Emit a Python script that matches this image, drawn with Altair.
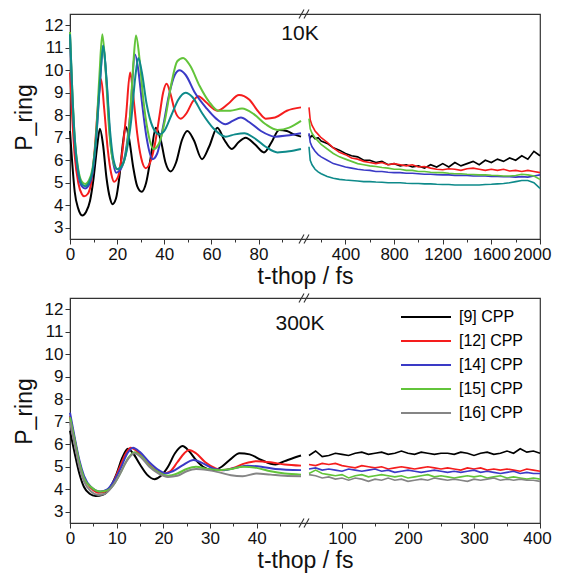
import altair as alt
import pandas as pd

SERIES = ["[9] CPP", "[12] CPP", "[14] CPP", "[15] CPP", "[16] CPP"]
TOP_COLORS = ["#000000", "#f51d1d", "#3a3ac6", "#62c43a", "#0e8a8a"]
BOT_COLORS = ["#000000", "#f51d1d", "#3a3ac6", "#62c43a", "#858585"]

# ---------------- 10 K, 0-98 fs ----------------
top9_t = [0, 1, 2, 3.5, 5.2, 6.8, 8.5, 10, 11.5, 12.7, 14, 15.5, 17, 18, 19.5, 21, 22.5, 23.6, 25, 26.8, 28.5, 30.4, 32.3, 34.2, 36.4, 38.5, 40.5, 42.7, 45, 47.5, 49.8, 52.5, 56, 59, 62.5, 65.5, 68.6, 71.5, 74.5, 78.5, 82.3, 85.5, 88.7, 92, 95, 98]
top9_v = [7.3, 5.8, 4.6, 3.85, 3.55, 3.7, 4.2, 5.2, 6.6, 7.4, 6.7, 5.2, 4.3, 4.05, 4.3, 5.3, 6.8, 7.5, 7.0, 5.7, 4.85, 4.6, 5.0, 6.1, 7.45, 6.9, 5.9, 5.5, 5.9, 6.9, 7.3, 6.9, 6.05, 6.6, 7.45, 6.9, 6.5, 6.8, 7.0, 6.7, 6.35, 6.8, 7.35, 7.3, 7.15, 7.05]
top12_t = [0, 1, 2, 3.5, 5, 6, 7.5, 9, 10.5, 12, 13.2, 14.5, 16, 17.5, 18.7, 20.5, 22, 23.8, 25.5, 27, 28.5, 30.2, 32.1, 34, 36, 38, 39.5, 41, 42.5, 44.5, 47, 49.5, 52, 54.5, 57.5, 62.5, 67, 71.7, 76, 80, 83, 87, 92, 98]
top12_v = [9.9, 7.8, 6.2, 5.0, 4.5, 4.4, 4.5, 5.0, 6.5, 8.6, 9.6, 8.3, 6.5, 5.4, 5.05, 5.3, 6.2, 8.0, 9.9, 8.7, 7.2, 6.1, 5.65, 5.9, 6.7, 8.0, 9.0, 9.4, 9.0, 8.2, 7.85, 8.1, 8.6, 8.85, 8.6, 8.2, 8.5, 8.9, 8.7, 8.15, 7.85, 7.9, 8.2, 8.35]
top14_t = [0, 1, 2, 3.5, 5, 6.4, 8, 9.5, 11, 12.7, 14.1, 15.5, 17, 18.5, 19.6, 21.5, 23.5, 25.5, 27.6, 29, 30.5, 32.5, 35, 37, 39.5, 42, 44.5, 46.5, 49, 53, 58, 62, 66, 69, 72.5, 76, 81, 87, 92, 98]
top14_v = [11.5, 8.8, 6.8, 5.4, 4.85, 4.75, 4.9, 5.4, 6.8, 9.4, 11.1, 9.5, 7.0, 5.8, 5.45, 5.6, 6.3, 8.0, 10.7, 10.0, 8.6, 7.0, 6.05, 6.3, 7.5, 8.9, 9.8, 10.0, 9.8, 9.0, 8.3, 7.85, 7.6, 7.75, 7.9, 7.7, 7.3, 7.05, 7.1, 7.2]
top15_t = [0, 1, 2, 3.5, 5, 6.5, 8, 9.5, 11, 12.5, 13.7, 15, 16.5, 18, 20, 22, 24, 25.5, 27, 28, 29.5, 31, 33, 35.5, 38, 40.5, 43, 45.5, 48, 51, 55, 59, 63, 68, 73, 78, 83, 88, 93, 98]
top15_v = [11.7, 9.0, 7.0, 5.6, 5.05, 4.95, 5.1, 5.6, 7.0, 9.8, 11.6, 10.2, 7.5, 6.1, 5.6, 5.75, 6.5, 8.0, 10.5, 11.55, 10.5, 8.8, 7.3, 6.5, 6.8, 7.9, 9.4, 10.4, 10.55, 10.2, 9.3, 8.6, 8.2, 8.2, 8.3, 8.05, 7.6, 7.35, 7.45, 7.75]
top16_t = [0, 1, 2, 3.5, 5, 6.5, 8, 9.5, 11, 12.7, 14.1, 15.5, 17, 18.5, 20.2, 22, 24, 26, 27.7, 29, 30.5, 32.5, 35, 37.8, 40, 43, 46, 49, 52, 56, 61, 66, 70, 74, 78, 83, 88, 93, 98]
top16_v = [11.6, 9.0, 7.0, 5.5, 4.95, 4.85, 5.0, 5.5, 6.9, 9.5, 11.1, 9.6, 7.3, 6.0, 5.6, 5.75, 6.4, 7.8, 9.7, 10.55, 9.9, 8.5, 7.5, 7.15, 7.3, 8.0, 8.7, 9.0, 8.8, 8.1, 7.4, 7.05, 7.15, 7.2, 7.0, 6.6, 6.35, 6.4, 6.5]

# ---------------- 10 K, 100-2000 fs ----------------
top_late_t = [100, 110, 125, 150, 175, 200, 250, 300, 350, 400, 450, 500, 550, 600, 650, 700, 750, 800, 850, 900, 950, 1000, 1050, 1100, 1150, 1200, 1250, 1300, 1350, 1400, 1450, 1500, 1550, 1600, 1650, 1700, 1750, 1800, 1850, 1900, 1950, 2000]
top9_late = [7.15, 7.0, 7.1, 6.95, 7.0, 6.85, 6.75, 6.55, 6.45, 6.3, 6.2, 6.15, 6.0, 6.0, 5.9, 5.95, 5.8, 5.85, 5.75, 5.8, 5.7, 5.75, 5.65, 5.8, 5.7, 5.85, 5.7, 5.9, 5.75, 5.85, 5.95, 5.8, 6.0, 5.9, 6.05, 5.95, 6.1, 6.0, 6.2, 6.05, 6.4, 6.2]
top12_late = [8.35, 7.8, 7.55, 7.3, 7.15, 7.0, 6.8, 6.55, 6.35, 6.25, 6.1, 6.05, 5.95, 5.9, 5.85, 5.9, 5.8, 5.85, 5.8, 5.75, 5.8, 5.7, 5.72, 5.65, 5.6, 5.58, 5.62, 5.6, 5.55, 5.62, 5.65, 5.6, 5.55, 5.6, 5.55, 5.6, 5.52, 5.55, 5.5, 5.55, 5.5, 5.45]
top14_late = [7.2, 6.8, 6.6, 6.4, 6.25, 6.15, 6.0, 5.85, 5.78, 5.7, 5.65, 5.6, 5.57, 5.55, 5.5, 5.5, 5.47, 5.45, 5.45, 5.42, 5.42, 5.4, 5.38, 5.38, 5.36, 5.35, 5.35, 5.33, 5.33, 5.32, 5.3, 5.3, 5.3, 5.28, 5.28, 5.27, 5.27, 5.25, 5.27, 5.25, 5.3, 5.35]
top15_late = [7.85, 7.4, 7.2, 7.0, 6.85, 6.7, 6.5, 6.3, 6.15, 6.05, 5.95, 5.85, 5.8, 5.75, 5.72, 5.68, 5.65, 5.6, 5.6, 5.55, 5.55, 5.5, 5.5, 5.47, 5.45, 5.45, 5.42, 5.4, 5.4, 5.38, 5.37, 5.35, 5.35, 5.33, 5.32, 5.3, 5.3, 5.32, 5.38, 5.35, 5.3, 5.15]
top16_late = [6.6, 6.0, 5.8, 5.6, 5.48, 5.4, 5.28, 5.2, 5.15, 5.12, 5.1, 5.08, 5.05, 5.05, 5.03, 5.02, 5.0, 5.0, 5.0, 4.98, 4.97, 4.97, 4.95, 4.95, 4.93, 4.92, 4.92, 4.9, 4.9, 4.9, 4.9, 4.9, 4.92, 4.93, 4.95, 4.97, 5.0, 5.05, 5.1, 5.1, 5.0, 4.75]

# ---------------- 300 K, 0-49.5 fs ----------------
bot9_t = [0, 1, 2, 3, 4.2, 5.5, 7, 8.5, 10, 11.2, 12.4, 13.5, 15, 16.5, 18.1, 19.5, 21, 22.5, 24.1, 25.5, 27, 28.5, 30.7, 32.5, 34.5, 36.3, 38.5, 41, 44, 46, 48, 49.5]
bot9_v = [6.6, 5.6, 4.7, 4.1, 3.8, 3.7, 3.75, 4.05, 4.7, 5.4, 5.8, 5.6, 5.1, 4.65, 4.45, 4.6, 5.0, 5.6, 5.92, 5.7, 5.3, 5.0, 4.85, 5.0, 5.35, 5.6, 5.55, 5.3, 5.1, 5.25, 5.4, 5.5]
bot12_t = [0, 1, 2, 3, 4.5, 6, 7.5, 9, 10.5, 12, 13, 14.3, 16, 18, 20, 21.5, 23, 24.5, 25.5, 27, 29, 31, 32.5, 35, 37.5, 40, 43, 46, 49.5]
bot12_v = [7.25, 6.2, 5.2, 4.5, 4.05, 3.85, 3.9, 4.2, 4.9, 5.6, 5.85, 5.7, 5.3, 4.9, 4.7, 4.8, 5.2, 5.6, 5.75, 5.6, 5.2, 4.95, 4.85, 4.95, 5.15, 5.25, 5.2, 5.1, 5.05]
bot14_t = [0, 1, 2, 3, 4.5, 6.5, 8, 9.5, 11, 12.3, 13.5, 15, 17, 19, 20.5, 22, 24, 26.5, 28.5, 31, 33, 35.5, 38, 41, 44, 49.5]
bot14_v = [7.4, 6.3, 5.3, 4.6, 4.1, 3.9, 4.0, 4.4, 5.0, 5.6, 5.85, 5.65, 5.2, 4.85, 4.7, 4.8, 5.05, 5.3, 5.15, 4.9, 4.85, 4.95, 5.05, 5.0, 4.9, 4.85]
bot15_t = [0, 1, 2, 3, 4.5, 6.5, 8, 9.5, 11, 12.5, 13.8, 15.3, 17, 19, 21, 23, 25, 27, 29.5, 32, 34.5, 37, 40, 43, 46, 49.5]
bot15_v = [7.2, 6.2, 5.2, 4.5, 4.1, 3.9, 3.95, 4.25, 4.8, 5.4, 5.65, 5.45, 5.05, 4.75, 4.6, 4.7, 4.9, 5.0, 4.9, 4.85, 4.9, 5.0, 4.95, 4.8, 4.7, 4.65]
bot16_t = [0, 1, 2, 3, 4.5, 6, 7.5, 9, 10.5, 12, 13.8, 15.3, 17, 19, 21, 23, 25, 27, 29.5, 32, 34.5, 37, 40, 43, 46, 49.5]
bot16_v = [7.0, 6.0, 5.0, 4.35, 3.9, 3.75, 3.8, 4.1, 4.6, 5.2, 5.6, 5.4, 5.0, 4.7, 4.55, 4.6, 4.8, 4.9, 4.85, 4.75, 4.62, 4.58, 4.7, 4.65, 4.6, 4.58]

# ---------------- 300 K, 50-400 fs ----------------
bot_late_t = [50, 60, 70, 80, 90, 100, 110, 120, 130, 140, 150, 160, 170, 180, 190, 200, 210, 220, 230, 240, 250, 260, 270, 280, 290, 300, 310, 320, 330, 340, 350, 360, 370, 380, 390, 400]
bot9_late = [5.5, 5.7, 5.45, 5.5, 5.6, 5.55, 5.5, 5.6, 5.65, 5.55, 5.6, 5.65, 5.55, 5.6, 5.7, 5.6, 5.55, 5.65, 5.6, 5.55, 5.6, 5.6, 5.55, 5.65, 5.6, 5.5, 5.6, 5.65, 5.55, 5.6, 5.7, 5.6, 5.8, 5.65, 5.7, 5.6]
bot12_late = [5.1, 5.05, 5.15, 5.1, 5.15, 5.05, 5.0, 4.95, 5.05, 5.0, 4.95, 5.0, 4.9, 4.95, 5.0, 4.95, 4.9, 4.95, 5.0, 4.95, 4.9, 4.95, 4.9, 4.85, 4.95, 4.9, 4.95, 4.85, 4.9, 4.85, 4.9, 4.85, 4.8, 4.9, 4.85, 4.8]
bot14_late = [4.9, 4.95, 4.85, 4.9, 4.85, 4.8, 4.9, 4.85, 4.8, 4.85, 4.9, 4.8, 4.85, 4.75, 4.8, 4.85, 4.8, 4.75, 4.8, 4.85, 4.8, 4.75, 4.8, 4.75, 4.8, 4.85, 4.75, 4.8, 4.75, 4.7, 4.75, 4.8, 4.7, 4.75, 4.7, 4.7]
bot15_late = [4.7, 4.85, 4.7, 4.65, 4.6, 4.65, 4.5, 4.6, 4.65, 4.55, 4.6, 4.65, 4.6, 4.55, 4.6, 4.5, 4.55, 4.6, 4.65, 4.55, 4.6, 4.55, 4.5, 4.55, 4.6, 4.55, 4.6, 4.5, 4.55, 4.6, 4.5, 4.55, 4.5, 4.45, 4.5, 4.45]
bot16_late = [4.65, 4.6, 4.5, 4.55, 4.45, 4.5, 4.4, 4.5, 4.45, 4.35, 4.45, 4.4, 4.5, 4.4, 4.45, 4.35, 4.4, 4.45, 4.4, 4.5, 4.45, 4.4, 4.45, 4.4, 4.35, 4.45, 4.4, 4.45, 4.5, 4.4, 4.45, 4.4, 4.45, 4.4, 4.4, 4.35]

TOP_EARLY = [(top9_t, top9_v), (top12_t, top12_v), (top14_t, top14_v), (top15_t, top15_v), (top16_t, top16_v)]
TOP_LATE = [top9_late, top12_late, top14_late, top15_late, top16_late]
BOT_EARLY = [(bot9_t, bot9_v), (bot12_t, bot12_v), (bot14_t, bot14_v), (bot15_t, bot15_v), (bot16_t, bot16_v)]
BOT_LATE = [bot9_late, bot12_late, bot14_late, bot15_late, bot16_late]

TOP_MAJOR = [0, 20, 40, 60, 80, 400, 800, 1200, 1600, 2000]
TOP_MINOR = [10, 30, 50, 70, 90, 200, 600, 1000, 1400, 1800]
BOT_MAJOR = [0, 10, 20, 30, 40, 100, 200, 300, 400]
BOT_MINOR = [5, 15, 25, 35, 45, 150, 250, 350]
Y_TICKS = list(range(3, 13))


def make_df(early, late_t, late):
    rows = []
    for k, s in enumerate(SERIES):
        ts, vs = early[k]
        for t, v in zip(ts, vs):
            rows.append({"series": s, "seg": "a", "t": t, "v": v})
        for t, v in zip(late_t, late[k]):
            rows.append({"series": s, "seg": "b", "t": t, "v": v})
    return pd.DataFrame(rows)


W, H = 470, 225


def break_marks():
    # two short slanted strokes at the axis break, on the top and bottom frame lines
    marks = []
    one = pd.DataFrame({"k": [0]})
    for yc in (0, H):
        for dx in (0, 5):
            marks.append(
                alt.Chart(one).mark_rule(color="#333", strokeWidth=1.1).encode(
                    x=alt.value(229 + dx), x2=alt.value(234 + dx),
                    y=alt.value(yc + 4.5), y2=alt.value(yc - 4.5),
                )
            )
    return marks


def panel(df, xdom, xrng, major, minor, colors, temp, temp_y, legend, last_shift, ytitle_y):
    vals = sorted(major + minor)
    major_test = " || ".join(f"datum.value == {m}" for m in major)
    xax = alt.Axis(
        values=vals,
        format="d",
        labelExpr=f"({major_test}) ? datum.label : ''",
        tickSize={"condition": {"test": f"!({major_test})", "value": 3}, "value": 5},
        labelOffset={"condition": {"test": f"datum.value == {xdom[-1]}", "value": last_shift}, "value": 0},
        title="t-thop / fs",
        labelPadding=2,
        titlePadding=3,
        labelOverlap=False,
        labelFlush=False,
        labelFontSize=17,
        grid=False,
    )
    yax = alt.Axis(values=Y_TICKS, title="P_ring", tickSize=5, labelPadding=2,
                   titlePadding=8, labelFontSize=17, titleY=ytitle_y, grid=False)
    leg = alt.Legend(
        title=None, orient="none", legendX=348, legendY=11,
        symbolType="M-5,0H5", symbolSize=100, symbolStrokeWidth=2.2,
        labelFontSize=16, labelOffset=25, rowPadding=8, labelFont="Liberation Sans",
    ) if legend else None
    base = alt.Chart(df).encode(
        x=alt.X("t:Q", scale=alt.Scale(domain=xdom, range=xrng, nice=False, zero=False), axis=xax),
        y=alt.Y("v:Q", scale=alt.Scale(domain=[2.5, 12.5], nice=False, zero=False), axis=yax),
        color=alt.Color("series:N", scale=alt.Scale(domain=SERIES, range=colors), legend=leg, sort=SERIES),
        detail="seg:N",
        order="t:Q",
    )
    early_lines = base.transform_filter("datum.seg == 'a'").mark_line(interpolate="monotone", strokeWidth=2)
    late_lines = base.transform_filter("datum.seg == 'b'").mark_line(strokeWidth=1.6)
    label = alt.Chart(pd.DataFrame({"txt": [temp]})).mark_text(
        fontSize=21, font="Liberation Sans", align="center", baseline="middle", color="#111"
    ).encode(x=alt.value(230), y=alt.value(temp_y), text="txt:N")
    return alt.layer(early_lines, late_lines, label, *break_marks()).properties(width=W, height=H)


top = panel(make_df(TOP_EARLY, top_late_t, TOP_LATE), [0, 98, 100, 2000], [0, 231, 239, W],
            TOP_MAJOR, TOP_MINOR, TOP_COLORS, "10K", 20, False, -8, 103)
bot = panel(make_df(BOT_EARLY, bot_late_t, BOT_LATE), [0, 49.5, 50, 400], [0, 231, 239, W],
            BOT_MAJOR, BOT_MINOR, BOT_COLORS, "300K", 26, True, -3, 113)

chart = alt.vconcat(top, bot, spacing=3).resolve_scale(
    x="independent", y="independent", color="independent"
).properties(
    padding={"left": 4, "top": 0, "right": 0, "bottom": 0}
).configure(
    font="Liberation Sans"
).configure_view(
    stroke="#333", strokeWidth=1.2
).configure_axis(
    labelFontSize=16, titleFontSize=23, titleFontWeight="normal", labelColor="#111",
    titleColor="#111", domainColor="#333", tickColor="#333", labelFont="Liberation Sans",
    titleFont="Liberation Sans"
)

chart.save("out.html", embed_options={"renderer": "svg", "actions": False})
